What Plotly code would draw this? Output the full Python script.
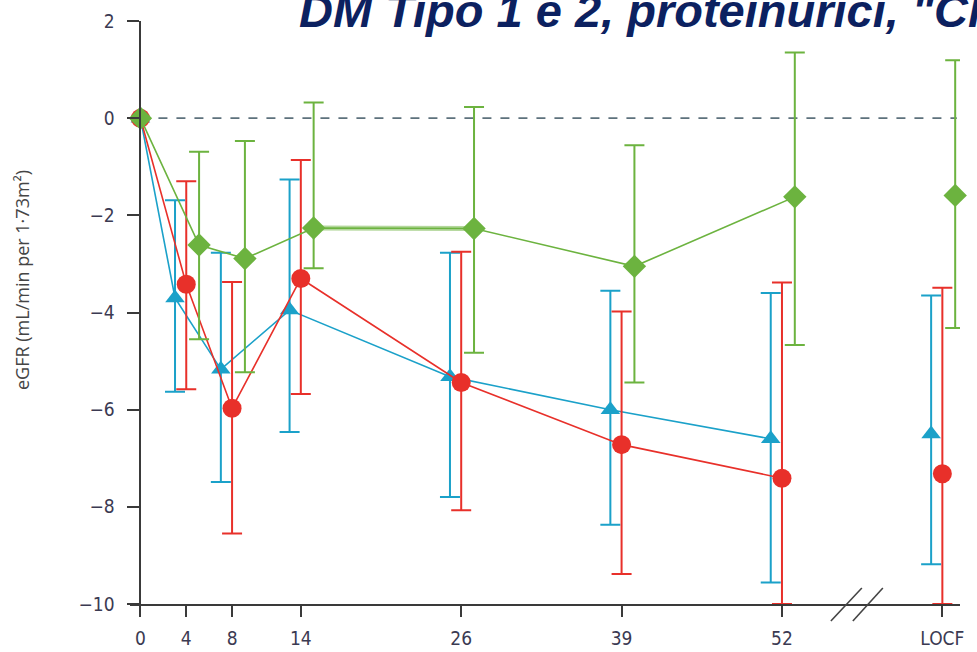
import plotly.graph_objects as go

# ---------------- data ----------------
visit_weeks = [0, 4, 8, 14, 26, 39, 52]
tick_labels = ["0", "4", "8", "14", "26", "39", "52", "LOCF"]

# blue triangles
blue_mean = [0, -3.70, -5.17, -3.95, -5.32, -6.00, -6.60]
blue_hi = [None, -1.69, -2.77, -1.26, -2.77, -3.55, -3.60]
blue_lo = [None, -5.63, -7.49, -6.46, -7.80, -8.37, -9.56]
blue_locf = [-6.50, -3.65, -9.18]  # mean, upper, lower

# red circles
red_mean = [0, -3.42, -5.97, -3.30, -5.44, -6.72, -7.41]
red_hi = [None, -1.30, -3.37, -0.86, -2.75, -3.98, -3.38]
red_lo = [None, -5.58, -8.55, -5.68, -8.07, -9.38, -10.0]
red_locf = [-7.32, -3.49, -10.0]

# green diamonds
green_mean = [0, -2.61, -2.89, -2.26, -2.27, -3.05, -1.62]
green_hi = [None, -0.69, -0.47, 0.32, 0.23, -0.56, 1.35]
green_lo = [None, -4.55, -5.23, -3.09, -4.83, -5.44, -4.67]
green_locf = [-1.59, 1.19, -4.32]

title_text = 'DM Tipo 1 e 2, proteinurici, "Cl'
y_title = "eGFR (mL/min per 1·73m²)"

# ---------------- styling ----------------
BLUE = "#1ba1c9"
RED = "#e8302a"
GREEN = "#6cb33f"
GREEN_LIGHT = "#b3d79b"
AXIS = "#3a3a3a"
TICKFONT = dict(family="Liberation Sans Narrow, DejaVu Sans Condensed, Arial Narrow, sans-serif",
                size=19, color="#3b3a52")

# The chart's x scale: weeks 0-14 linear, then one unit per later visit, LOCF last
def axis_pos(week):
    if week == "LOCF":
        return len(visit_weeks) - 3 + 1
    if week <= 14:
        return week / 14
    later = [w for w in visit_weeks if w >= 14]
    return float(later.index(week) + 1)

tick_pos = [axis_pos(w) for w in visit_weeks] + [axis_pos("LOCF")]

fig = go.Figure()

series = [
    (blue_mean, blue_hi, blue_lo, blue_locf, BLUE, "triangle-up", 17, -0.07),
    (red_mean, red_hi, red_lo, red_locf, RED, "circle", 19, 0.0),
    (green_mean, green_hi, green_lo, green_locf, GREEN, "diamond", 18, 0.08),
]

for mean, hi, lo, locf, color, symbol, msize, off in series:
    xs = [axis_pos(w) + (off if w > 0 else 0) for w in visit_weeks]
    if color == GREEN:
        # the 14 -> 26 week segment of this series is drawn as a broader, lighter band
        i14, i26 = visit_weeks.index(14), visit_weeks.index(26)
        fig.add_trace(go.Scatter(
            x=xs[i14:i26 + 1], y=mean[i14:i26 + 1], mode="lines",
            line=dict(color=GREEN_LIGHT, width=5),
            cliponaxis=False, showlegend=False, hoverinfo="skip",
        ))
    plus = [(h - m) if h is not None else 0 for h, m in zip(hi, mean)]
    minus = [(m - l) if l is not None else 0 for l, m in zip(lo, mean)]
    fig.add_trace(go.Scatter(
        x=xs, y=mean, mode="lines+markers",
        line=dict(color=color, width=1.6),
        marker=dict(symbol=symbol, size=msize, color=color, line=dict(width=0)),
        error_y=dict(type="data", symmetric=False, array=plus, arrayminus=minus,
                     color=color, thickness=2, width=10, visible=True),
        cliponaxis=False, showlegend=False, hoverinfo="skip",
    ))
    m, h, l = locf
    fig.add_trace(go.Scatter(
        x=[axis_pos("LOCF") + off], y=[m], mode="markers",
        marker=dict(symbol=symbol, size=msize, color=color, line=dict(width=0)),
        error_y=dict(type="data", symmetric=False, array=[h - m], arrayminus=[m - l],
                     color=color, thickness=2, width=10),
        cliponaxis=False, showlegend=False, hoverinfo="skip",
    ))

x_lo, x_hi = -0.065, 5.11
TOP, BOT = 21, 48
PLOT_H = 652 - TOP - BOT

def xpaper(v):
    return (v - x_lo) / (x_hi - x_lo)

# zero reference line
fig.add_shape(type="line", xref="x", yref="y", x0=0, x1=5.09, y0=0, y1=0,
              line=dict(color="#5d717c", width=1.8, dash="dash"), layer="below")

# axis break marks between 52 and LOCF (straddling the x axis line)
for xa, xb in [(4.305, 4.498), (4.442, 4.629)]:
    fig.add_shape(type="line", xref="paper", yref="paper",
                  x0=xpaper(xa), x1=xpaper(xb), y0=-17 / PLOT_H, y1=16 / PLOT_H,
                  line=dict(color="#444444", width=1.6))

# title (cut by the top edge, as in the reference)
fig.add_annotation(text="<b><i>" + title_text + "</i></b>", xref="paper", yref="paper",
                   x=(297 - 130) / 830, y=1 + (TOP - 11) / PLOT_H,
                   xanchor="left", yanchor="middle", showarrow=False,
                   font=dict(family="Liberation Sans, Arial, sans-serif", size=47, color="#0c2160"))

# y axis title
fig.add_annotation(text=y_title, xref="paper", yref="paper",
                   x=(22 - 130) / 830, y=1 - (280 - TOP) / PLOT_H,
                   xanchor="center", yanchor="middle", textangle=-90, showarrow=False,
                   font=dict(family="Open Sans, sans-serif", size=18, color="#454545"))

fig.update_layout(
    width=977, height=652,
    margin=dict(l=130, r=17, t=TOP, b=BOT, autoexpand=False),
    plot_bgcolor="white", paper_bgcolor="white",
    xaxis=dict(range=[x_lo, x_hi], showgrid=False, zeroline=False, automargin=False,
               showline=True, linecolor=AXIS, linewidth=2,
               ticks="outside", ticklen=11, tickwidth=2, tickcolor=AXIS,
               ticklabelstandoff=5,
               tickvals=tick_pos, ticktext=tick_labels, tickfont=TICKFONT),
    yaxis=dict(range=[-10, 2], showgrid=False, zeroline=False, automargin=False,
               anchor="free", position=(0 - x_lo) / (x_hi - x_lo),
               showline=True, linecolor=AXIS, linewidth=2,
               ticks="outside", ticklen=12, tickwidth=2, tickcolor=AXIS,
               ticklabelstandoff=9,
               tickvals=[2, 0, -2, -4, -6, -8, -10],
               ticktext=["2", "0", "−2", "−4", "−6", "−8", "−10"],
               tickfont=TICKFONT),
)

fig.write_html("out.html")
